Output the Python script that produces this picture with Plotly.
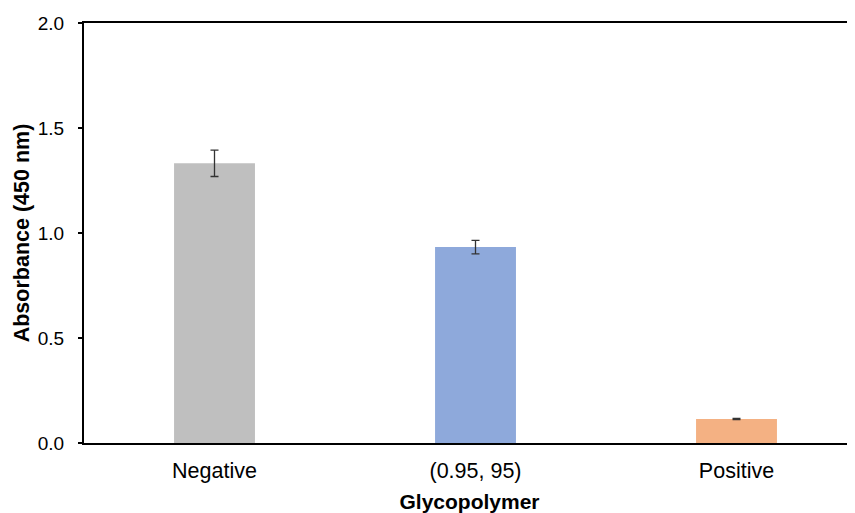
import plotly.graph_objects as go

categories = ["Negative", "(0.95, 95)", "Positive"]
values = [1.332, 0.933, 0.114]
errors = [0.063, 0.032, 0.003]
colors = ["#BFBFBF", "#8EA9DB", "#F4B183"]
y_ticks = [0.0, 0.5, 1.0, 1.5, 2.0]

fig = go.Figure()
fig.add_trace(go.Bar(
    x=categories, y=values,
    marker=dict(color=colors, line=dict(width=0)),
    width=0.31,
    error_y=dict(type="data", array=errors, visible=True,
                 color="#333333", thickness=1.3, width=4),
))

font = "Liberation Sans, Arial, sans-serif"
# page body has an 8px margin, so the figure is sized/offset to compensate
fig.update_layout(
    width=847, height=505,
    margin=dict(l=76, r=0, t=15, b=70),
    plot_bgcolor="white", paper_bgcolor="white",
    showlegend=False,
    font=dict(family=font, size=18, color="#000000"),
    xaxis=dict(
        range=[-0.5, 2.454],
        showline=True, linecolor="#000000", linewidth=2, mirror=True,
        ticks="", showgrid=False,
        tickfont=dict(size=21.5),
        ticklabelstandoff=7,
        title=dict(text="<b>Glycopolymer</b>", font=dict(size=21), standoff=13),
    ),
    yaxis=dict(
        range=[0, 2.0],
        tickvals=y_ticks, ticktext=[f"{v:.1f}" for v in y_ticks],
        showline=True, linecolor="#000000", linewidth=2,
        ticks="outside", ticklen=4, tickwidth=1.5, tickcolor="#000000",
        showgrid=False, zeroline=False,
        tickfont=dict(size=19),
        ticklabelstandoff=10,
        title=dict(text="<b>Absorbance (450 nm)</b>", font=dict(size=21.5), standoff=2),
    ),
)

fig.write_html("out.html")
